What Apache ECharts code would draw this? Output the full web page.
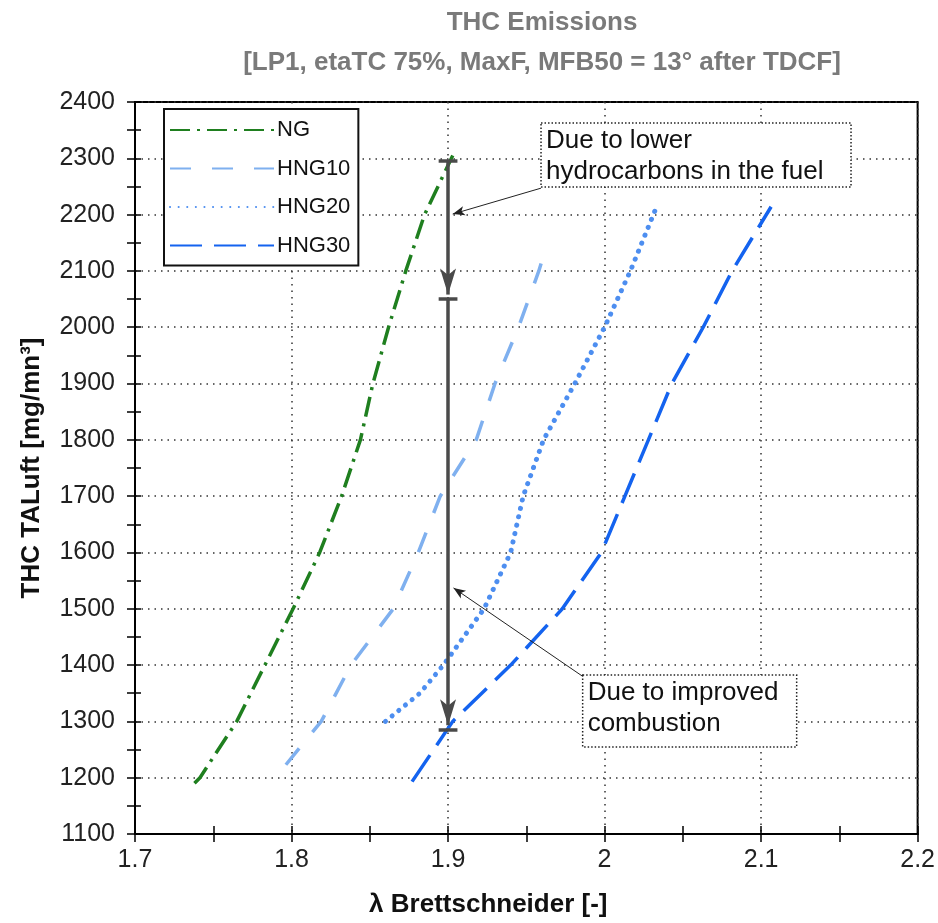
<!DOCTYPE html>
<html>
<head>
<meta charset="utf-8">
<script src="https://cdn.jsdelivr.net/npm/echarts@6/dist/echarts.min.js"></script>
<style>
html,body{margin:0;padding:0;background:#fff;}
#main{width:938px;height:923px;}
</style>
</head>
<body>
<div id="main"></div>
<script>
// ---- data ----
const seriesNames = ['NG', 'HNG10', 'HNG20', 'HNG30'];
const ngData = [[1.738,1190],[1.7415,1200],[1.765,1300],[1.783,1400],[1.801,1500],[1.818,1600],[1.832,1700],[1.844,1800],[1.852,1900],[1.862,2000],[1.873,2100],[1.885,2200],[1.903,2305]];
const hng10Data = [[1.7964,1223],[1.819,1300],[1.838,1400],[1.865,1500],[1.881,1600],[1.895,1700],[1.918,1800],[1.930,1900],[1.945,2000],[1.958,2100],[1.963,2146]];
const hng20Data = [[1.860,1300],[1.882,1350],[1.897,1400],[1.923,1500],[1.940,1600],[1.948,1700],[1.961,1800],[1.981,1900],[2.000,2000],[2.0165,2100],[2.0325,2209]];
const hng30Data = [[1.877,1193],[1.903,1300],[1.940,1400],[1.973,1500],[1.998,1600],[2.013,1700],[2.028,1800],[2.043,1900],[2.063,2000],[2.0815,2100],[2.1064,2214]];
const xTicks = [1.7, 1.8, 1.9, 2.0, 2.1, 2.2];
const yTicks = [1100, 1200, 1300, 1400, 1500, 1600, 1700, 1800, 1900, 2000, 2100, 2200, 2300, 2400];
// annotation arrow values
const arrowX = 1.9;
const arrowLevels = [2295, 2050, 1285];
const note1Text = 'Due to lower\nhydrocarbons in the fuel';
const note2Text = 'Due to improved\ncombustion';
const note1Anchor = [1.9594, 2362.7];
const note2Anchor = [1.986, 1382.2];
const note1Pointer = [[1.9594, 2247], [1.903, 2201]];
const note2Pointer = [[1.986, 1380], [1.9035, 1537]];

const chart = echarts.init(document.getElementById('main'), null, {renderer: 'canvas'});
const FONT = 'Liberation Sans, Arial, sans-serif';
const gridCfg = {left: 135, right: 16, top: 102, bottom: 89};

function fmtX(v){ return (Math.round(v*10)/10).toString(); }
function fmtY(v){ return String(Math.round(v)); }

const xMin = xTicks[0], xMax = xTicks[xTicks.length-1];
const yMin = yTicks[0], yMax = yTicks[yTicks.length-1];

const tickStyle = {color: '#000', width: 1.5};

const option = {
  backgroundColor: '#fff',
  animation: false,
  title: [
    {text: 'THC Emissions', left: 537, top: 5, textAlign: 'center',
     textStyle: {fontFamily: FONT, fontSize: 26, fontWeight: 'bold', color: '#7a7a7a'}},
    {text: '[LP1, etaTC 75%, MaxF, MFB50 = 13° after TDCF]', left: 537, top: 45, textAlign: 'center',
     textStyle: {fontFamily: FONT, fontSize: 26, fontWeight: 'bold', color: '#7a7a7a'}}
  ],
  grid: Object.assign({show: true, borderColor: '#000', borderWidth: 2, backgroundColor: 'transparent'}, gridCfg),
  legend: {
    data: seriesNames,
    orient: 'vertical',
    left: 164, top: 109,
    backgroundColor: '#fff',
    borderColor: '#111', borderWidth: 2,
    padding: [10, 8, 9, 5],
    itemGap: 16.5,
    itemWidth: 104, itemHeight: 14,
    itemStyle: {color: 'transparent', borderColor: 'transparent', borderWidth: 0, opacity: 0},
    textStyle: {fontFamily: FONT, fontSize: 22, color: '#111', lineHeight: 22, padding: [0,0,0,-2]}
  },
  xAxis: [
    {type: 'value', min: xMin, max: xMax, interval: 0.1, position: 'bottom',
     axisLine: {show: true, onZero: false, lineStyle: {color: '#000', width: 2}},
     axisTick: {show: true, length: 8, lineStyle: tickStyle},
     minorTick: {show: true, splitNumber: 2, length: 8, lineStyle: tickStyle},
     axisLabel: {fontFamily: FONT, fontSize: 25, color: '#222', margin: 14, formatter: fmtX},
     splitLine: {show: true, lineStyle: {color: '#333', width: 1.5, type: [1.5, 5]}},
     name: 'λ Brettschneider [-]', nameLocation: 'middle', nameGap: 58,
     nameTextStyle: {fontFamily: FONT, fontSize: 26, fontWeight: 'bold', color: '#111', padding: [0, 76, 0, 0]}},
    {type: 'value', min: xMin, max: xMax, interval: 0.1, position: 'bottom',
     axisLine: {show: false, onZero: false},
     axisTick: {show: true, inside: true, length: 8, lineStyle: tickStyle},
     minorTick: {show: true, splitNumber: 2, length: 8, lineStyle: tickStyle},
     axisLabel: {show: false}, splitLine: {show: false}}
  ],
  yAxis: [
    {type: 'value', min: yMin, max: yMax, interval: 100, position: 'left',
     axisLine: {show: true, onZero: false, lineStyle: {color: '#000', width: 2}},
     axisTick: {show: true, length: 8, lineStyle: tickStyle},
     minorTick: {show: true, splitNumber: 2, length: 8, lineStyle: tickStyle},
     axisLabel: {fontFamily: FONT, fontSize: 25, color: '#222', margin: 20, formatter: fmtY},
     splitLine: {show: true, lineStyle: {color: '#333', width: 1.5, type: [1.5, 5]}},
     name: 'THC TALuft [mg/mn³]', nameLocation: 'middle', nameGap: 90, nameRotate: 90,
     nameTextStyle: {fontFamily: FONT, fontSize: 26, fontWeight: 'bold', color: '#111'}},
    {type: 'value', min: yMin, max: yMax, interval: 100, position: 'left',
     axisLine: {show: false, onZero: false},
     axisTick: {show: true, inside: true, length: 6, lineStyle: tickStyle},
     minorTick: {show: true, splitNumber: 2, length: 6, lineStyle: tickStyle},
     axisLabel: {show: false}, splitLine: {show: false}}
  ],
  series: [
    {name: 'NG', type: 'line', data: ngData, showSymbol: false, symbol: 'none', smooth: false,
     lineStyle: {color: '#1f7f1f', width: 3.5, type: [20, 7, 3, 7]}, itemStyle: {color: '#1f7f1f'}, z: 3},
    {name: 'HNG10', type: 'line', data: hng10Data, showSymbol: false, symbol: 'none',
     lineStyle: {color: '#7fb0ef', width: 3.5, type: [21, 21]}, itemStyle: {color: '#7fb0ef'}, z: 3},
    {name: 'HNG20', type: 'line', data: hng20Data, showSymbol: false, symbol: 'none',
     lineStyle: {color: '#4d8ef0', width: 5, type: [0.1, 8.5], cap: 'round'}, itemStyle: {color: '#4d8ef0'}, z: 3},
    {name: 'HNG30', type: 'line', data: hng30Data, showSymbol: false, symbol: 'none',
     lineStyle: {color: '#1463ef', width: 3.5, type: [32, 12]}, itemStyle: {color: '#1463ef'}, z: 3},
    {name: 'arrows', type: 'line', data: [], z: 5,
     markLine: {
       silent: true, animation: false,
       label: {show: false},
       lineStyle: {color: '#4a4a4a', width: 3.5, type: 'solid'},
       data: [
         [{coord: [arrowX, arrowLevels[0]], symbol: 'none'}, {coord: [arrowX, arrowLevels[1] + 8], symbol: 'arrow', symbolSize: [12, 26]}],
         [{coord: [arrowX, arrowLevels[1]], symbol: 'none'}, {coord: [arrowX, arrowLevels[2] + 8], symbol: 'arrow', symbolSize: [12, 26]}],
         [{coord: [arrowX - 0.006, arrowLevels[0]], symbol: 'none'}, {coord: [arrowX + 0.006, arrowLevels[0]], symbol: 'none'}],
         [{coord: [arrowX - 0.006, arrowLevels[1]], symbol: 'none'}, {coord: [arrowX + 0.006, arrowLevels[1]], symbol: 'none'}],
         [{coord: [arrowX - 0.006, arrowLevels[2]], symbol: 'none'}, {coord: [arrowX + 0.006, arrowLevels[2]], symbol: 'none'}],
         [{coord: note1Pointer[0], symbol: 'none', lineStyle: {color: '#222', width: 1}}, {coord: note1Pointer[1], symbol: 'arrow', symbolSize: [7, 12]}],
         [{coord: note2Pointer[0], symbol: 'none', lineStyle: {color: '#222', width: 1}}, {coord: note2Pointer[1], symbol: 'arrow', symbolSize: [7, 12]}]
       ]
     }}
  ]
};
chart.setOption(option);

// annotation boxes placed from data coordinates
function noteGraphic(anchor, w, h, text, id){
  const p = chart.convertToPixel({gridIndex: 0}, anchor);
  return [
    {type: 'rect', id: id + 'r', z: 10, shape: {x: p[0], y: p[1], width: w, height: h},
     style: {fill: '#fff', stroke: '#222', lineWidth: 1.5, lineDash: [1.5, 2]}},
    {type: 'text', id: id + 't', z: 11, x: p[0] + 5, y: p[1] + 2,
     style: {text: text, fontFamily: FONT, fontSize: 26, lineHeight: 31, fill: '#111'}}
  ];
}
chart.setOption({graphic: [].concat(
  noteGraphic(note1Anchor, 310, 64, note1Text, 'n1'),
  noteGraphic(note2Anchor, 214, 72, note2Text, 'n2')
)});
</script>
</body>
</html>
